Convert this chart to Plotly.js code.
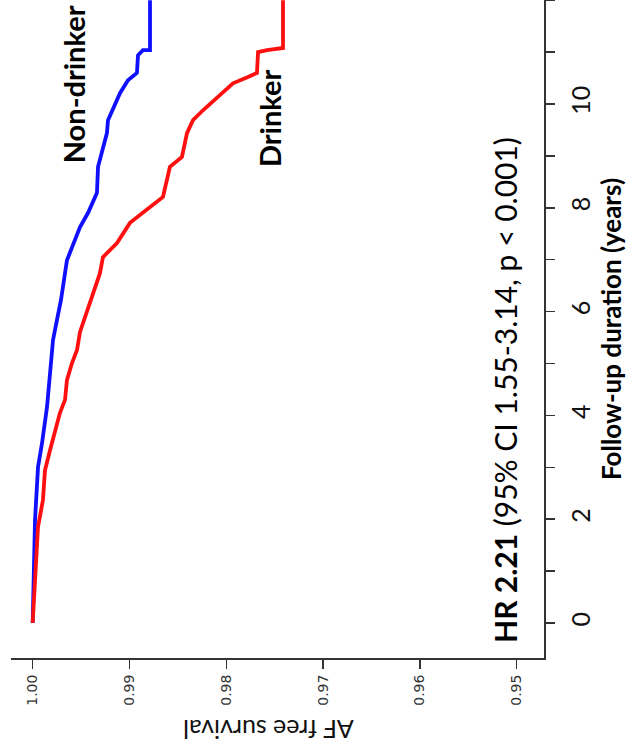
<!DOCTYPE html>
<html>
<head>
<meta charset="utf-8">
<script src="https://cdn.plot.ly/plotly-3.0.1.min.js"></script>
<style>html,body{margin:0;padding:0;background:#fff;}#chart{width:632px;height:753px;}</style>
</head>
<body>
<div id="chart"></div>
<script>
// Follow-up time (years) and AF-free survival for each group
const nonDrinkerYears = [0, 1.98, 3.00, 3.46, 4.16, 4.74, 5.45, 5.84, 6.22, 6.99, 7.24, 7.63, 7.90, 8.29, 8.79, 9.06, 9.44, 9.69, 10.02, 10.21, 10.46, 10.60, 10.94, 11.04, 11.04, 12.0];
const nonDrinkerSurv  = [1.0, 0.99976, 0.99945, 0.99904, 0.99852, 0.99821, 0.99790, 0.99749, 0.99708, 0.99646, 0.99594, 0.99511, 0.99429, 0.99336, 0.99325, 0.99284, 0.99233, 0.99222, 0.99150, 0.99098, 0.99016, 0.98923, 0.98912, 0.98861, 0.98788, 0.98788];

const drinkerYears = [0, 1.85, 2.37, 2.94, 3.33, 4.05, 4.30, 4.68, 5.01, 5.26, 5.61, 5.89, 6.22, 6.74, 7.05, 7.32, 7.71, 7.96, 8.21, 8.79, 8.98, 9.44, 9.69, 9.88, 10.13, 10.40, 10.52, 10.60, 11.00, 11.04, 11.08, 12.0];
const drinkerSurv  = [1.0, 0.99945, 0.99894, 0.99873, 0.99821, 0.99718, 0.99666, 0.99646, 0.99594, 0.99542, 0.99511, 0.99460, 0.99408, 0.99305, 0.99274, 0.99129, 0.98995, 0.98820, 0.98654, 0.98582, 0.98458, 0.98406, 0.98344, 0.98241, 0.98096, 0.97931, 0.97776, 0.97683, 0.97672, 0.97579, 0.97414, 0.97414];

const survTicks = [1.00, 0.99, 0.98, 0.97, 0.96, 0.95];
const survTickText = ['1.00', '0.99', '0.98', '0.97', '0.96', '0.95'];

const FONT = 'Lato, "Open Sans", sans-serif';

const traces = [
  {x: nonDrinkerSurv, y: nonDrinkerYears, mode: 'lines', name: 'Non-drinker',
   line: {color: '#1010ff', width: 3.8}, hoverinfo: 'skip'},
  {x: drinkerSurv, y: drinkerYears, mode: 'lines', name: 'Drinker',
   line: {color: '#ff1010', width: 3.8}, hoverinfo: 'skip'}
];

const layout = {
  width: 632, height: 753,
  margin: {l: 11, r: 88, t: 0, b: 95},
  paper_bgcolor: '#fff', plot_bgcolor: '#fff',
  showlegend: false,
  font: {family: FONT, color: '#111'},
  xaxis: {
    range: [1.00224, 0.94718],
    tickvals: survTicks, ticktext: survTickText,
    tickangle: -90,
    ticks: 'outside', ticklen: 9, tickwidth: 1.5, tickcolor: '#333',
    showline: true, linewidth: 2, linecolor: '#333',
    showgrid: false, zeroline: false,
    tickfont: {family: 'DejaVu Sans, sans-serif', size: 14, color: '#333'}
  },
  yaxis: {
    side: 'right',
    range: [-0.675, 12.005],
    tick0: 0, dtick: 2,
    tickangle: -90,
    ticks: 'outside', ticklen: 9, tickwidth: 1.5, tickcolor: '#333',
    minor: {dtick: 1, ticks: 'outside', ticklen: 9, tickwidth: 1.5, tickcolor: '#333', showgrid: false},
    ticklabelstandoff: 5,
    showline: true, linewidth: 2, linecolor: '#333',
    showgrid: false, zeroline: false,
    tickfont: {family: FONT, size: 25, color: '#111'},
    title: {text: '<b>Follow-up duration (years)</b>', font: {family: FONT, size: 26, color: '#000'}, standoff: 6}
  },
  annotations: [
    {text: 'AF free survival', xref: 'paper', yref: 'paper', x: 0.482, y: -0.135,
     textangle: 180, showarrow: false, font: {family: FONT, size: 25, color: '#111'}},
    {text: '<b>Non-drinker</b>', xref: 'x', yref: 'y', x: 0.99584, y: 10.38,
     textangle: -90, showarrow: false, font: {family: FONT, size: 29, color: '#000'}},
    {text: '<b>Drinker</b>', xref: 'x', yref: 'y', x: 0.97559, y: 9.73,
     textangle: -90, showarrow: false, font: {family: FONT, size: 29, color: '#000'}},
    {text: '<b>HR 2.21</b> (95% CI 1.55-3.14, p < 0.001)', xref: 'x', yref: 'y', x: 0.95121, y: 4.49,
     textangle: -90, showarrow: false, font: {family: FONT, size: 30, color: '#000'}}
  ]
};

Plotly.newPlot('chart', traces, layout, {displayModeBar: false, staticPlot: true});
</script>
</body>
</html>
